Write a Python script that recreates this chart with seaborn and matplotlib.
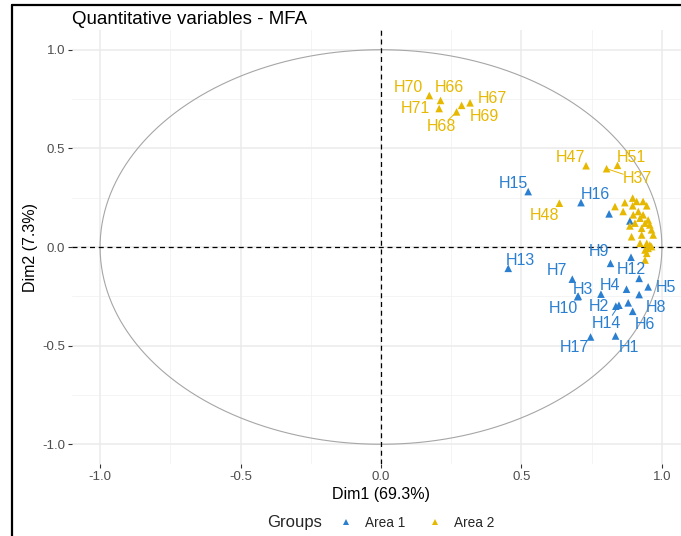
import numpy as np
import pandas as pd
import matplotlib
matplotlib.use("Agg")
import matplotlib.pyplot as plt
from matplotlib.lines import Line2D
import seaborn as sns

# ---------------- data ----------------
area1_names = ["H15", "H16", "H18", "H19", "H12", "H9", "H11", "H13", "H7", "H3",
               "H10", "H4", "H20", "H5", "H8", "H21", "H2", "H14", "H6", "H17", "H1"]
area1_dim1 = [0.524, 0.712, 0.812, 0.886, 0.890, 0.817, 0.919, 0.453, 0.681, 0.702,
              0.700, 0.783, 0.874, 0.951, 0.919, 0.880, 0.836, 0.847, 0.896, 0.746, 0.835]
area1_dim2 = [0.281, 0.225, 0.168, 0.132, -0.052, -0.083, -0.159, -0.108, -0.163, -0.249,
              -0.252, -0.239, -0.214, -0.202, -0.241, -0.283, -0.300, -0.295, -0.326, -0.456, -0.451]

area2_names = ["H70", "H66", "H71", "H67", "H69", "H68", "H47", "H51", "H37", "H48"] + \
              ["H%d" % i for i in list(range(22, 37)) + list(range(38, 47)) + list(range(49, 51)) + list(range(52, 56))]
area2_dim1 = [0.172, 0.212, 0.207, 0.317, 0.287, 0.269, 0.730, 0.842, 0.803, 0.635,
              0.896, 0.910, 0.933, 0.868, 0.833, 0.946, 0.896, 0.862, 0.916, 0.898,
              0.933, 0.922, 0.951, 0.904, 0.940, 0.957, 0.886, 0.928, 0.963, 0.892,
              0.928, 0.969, 0.922, 0.946, 0.957, 0.951, 0.940, 0.963, 0.946, 0.940]
area2_dim2 = [0.768, 0.743, 0.702, 0.731, 0.718, 0.685, 0.412, 0.414, 0.397, 0.222,
              0.248, 0.231, 0.231, 0.225, 0.205, 0.209, 0.209, 0.180, 0.180, 0.163,
              0.163, 0.146, 0.137, 0.121, 0.121, 0.112, 0.107, 0.095, 0.087, 0.052,
              0.061, 0.061, 0.019, 0.019, 0.010, -0.007, -0.015, 0.002, -0.032, -0.066]

group_labels = ["Area 1", "Area 2"]
title = "Quantitative variables - MFA"
xlab = "Dim1 (69.3%)"
ylab = "Dim2 (7.3%)"
ticks = [-1.0, -0.5, 0.0, 0.5, 1.0]

# label placement (repel-like offsets, in axis units) - layout only
label_offsets = {
    "H70": (-0.076, 0.041), "H66": (0.032, 0.066), "H71": (-0.086, -0.001),
    "H67": (0.078, 0.022), "H69": (0.080, -0.055), "H68": (-0.054, -0.076),
    "H47": (-0.056, 0.044), "H51": (0.048, 0.042), "H37": (0.108, -0.051),
    "H15": (-0.053, 0.043), "H16": (0.052, 0.043), "H48": (-0.052, -0.064),
    "H9": (-0.041, 0.059), "H13": (0.042, 0.042), "H7": (-0.055, 0.046),
    "H12": (0.001, -0.061), "H3": (0.017, 0.035), "H4": (0.031, 0.042),
    "H5": (0.063, -0.003), "H10": (-0.052, -0.060), "H2": (-0.059, -0.004),
    "H8": (0.061, -0.066), "H14": (-0.043, -0.093), "H6": (0.042, -0.066),
    "H17": (-0.056, -0.054), "H1": (0.048, -0.059),
}
segment_labels = ["H68", "H37", "H14"]

# ---------------- build frame ----------------
df = pd.DataFrame({
    "name": area1_names + area2_names,
    "Dim1": area1_dim1 + area2_dim1,
    "Dim2": area1_dim2 + area2_dim2,
    "Groups": [group_labels[0]] * len(area1_names) + [group_labels[1]] * len(area2_names),
})

palette = {"Area 1": "#2a7fd0", "Area 2": "#E7B800"}

sns.set_theme(style="white")
plt.rcParams["font.family"] = ["Liberation Sans", "DejaVu Sans"]

fig = plt.figure(figsize=(6.81, 5.36), dpi=100)
ax = fig.add_axes([72 / 681, 72 / 536, 618 / 681, 434 / 536])
ax.set_facecolor("white")

ax.set_xlim(-1.1, 1.1)
ax.set_ylim(-1.1, 1.1)

# grid
for v in [-0.75, -0.25, 0.25, 0.75]:
    ax.axvline(v, color="#F2F2F2", lw=0.6, zorder=0)
    ax.axhline(v, color="#F2F2F2", lw=0.6, zorder=0)
for v in ticks:
    ax.axvline(v, color="#EBEBEB", lw=1.1, zorder=0)
    ax.axhline(v, color="#EBEBEB", lw=1.1, zorder=0)

# correlation circle
theta = np.linspace(0, 2 * np.pi, 400)
ax.plot(np.cos(theta), np.sin(theta), color="#A6A6A6", lw=0.8, zorder=1)

# dashed axes
ax.axhline(0, color="black", lw=0.9, ls=(0, (4, 3)), zorder=2)
ax.axvline(0, color="black", lw=0.9, ls=(0, (4, 3)), zorder=2)

sns.scatterplot(data=df, x="Dim1", y="Dim2", hue="Groups", palette=palette,
                marker="^", s=30, linewidth=0, ax=ax, zorder=3)

# labels
for _, r in df.iterrows():
    if r["name"] not in label_offsets:
        continue
    dx, dy = label_offsets[r["name"]]
    col = palette[r["Groups"]]
    ax.text(r["Dim1"] + dx, r["Dim2"] + dy, r["name"], color=col,
            fontsize=11.5, ha="center", va="center", zorder=4)
    if r["name"] in segment_labels:
        ax.plot([r["Dim1"], r["Dim1"] + 0.55 * dx], [r["Dim2"], r["Dim2"] + 0.55 * dy],
                color=col, lw=0.7, zorder=3)

for s in ax.spines.values():
    s.set_visible(False)
ax.set_xticks(ticks)
ax.set_yticks(ticks)
ax.set_xticklabels(["%.1f" % t for t in ticks])
ax.set_yticklabels(["%.1f" % t for t in ticks])
ax.tick_params(axis="both", which="major", length=3, width=0.8, color="#333333",
               labelsize=9.5, labelcolor="#4D4D4D", pad=2, bottom=True, left=True)
ax.set_xlabel(xlab, fontsize=11.5, color="black", labelpad=3)
ax.set_ylabel(ylab, fontsize=11.5, color="black", labelpad=3)
ax.set_title(title, fontsize=13.5, loc="left", pad=4, color="black")

# legend at bottom
sns.move_legend(ax, "center left", bbox_to_anchor=((332 - 72) / 618, (464 - 523) / 434),
                ncol=2, title=None, frameon=False, fontsize=9.8,
                handletextpad=0.4, columnspacing=1.2, markerscale=0.9,
                borderaxespad=0, borderpad=0)
fig.text(267 / 681, 1 - 523 / 536, "Groups", fontsize=12, ha="left", va="center")

# black frame lines on left/top of the page
fig.add_artist(Line2D([12 / 681, 12 / 681], [0, 1 - 5 / 536], color="black", lw=1.6))
fig.add_artist(Line2D([12 / 681, 1], [1 - 5 / 536, 1 - 5 / 536], color="black", lw=1.6))

fig.savefig("out.png", dpi=100)
